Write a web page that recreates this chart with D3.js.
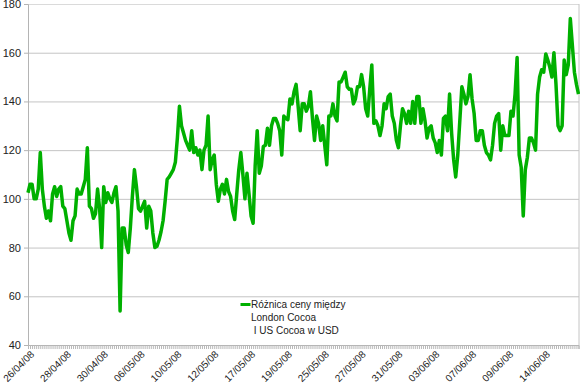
<!DOCTYPE html>
<html lang="pl">
<head>
<meta charset="UTF-8">
<title>Cocoa</title>
<style>
  body { margin: 0; background: #fff; }
  svg { display: block; font-family: "Liberation Sans", Arial, sans-serif; }
</style>
</head>
<body>
<svg id="chart"></svg>
<script src="https://d3js.org/d3.v7.min.js"></script>
<script>
// difference London Cocoa - US Cocoa (USD)
var values = [
  102.5,106,106,100,100,104,119,104,97,92,
  95,91,102,105,101,104,105,97,96,91,
  86,83,91,93,104,102,102,105,108,121,
  97,96,92,94,104,96,80,105,98.5,102.5,
  100,98.5,102.5,105,95,54,88,88,81,78,
  88,101,112,105,96,95,97,99,88,97,
  95,86,80,80.5,83,86.5,91,99,108,109,
  110.5,112,115,125,138,130,127,124,122,120,
  128,119,121,118,120,112,120,122,134,112,
  116,118,106,99,104,106,102,108,103,101,
  95,91.5,102,112,119,110,100,110.5,102,93,
  90,113.5,128,110.5,113.5,121.5,122,129,122,130,
  133,133,131,128,118,134,133,132.5,141,139,
  144,147,138,128,139,139,136,138,144,133,
  124,134,131,124,130,122,114,134,134,139,
  134,132,148,148,150,152,146,145,145,139,
  141,146,146,151,146,137,134,145,155,131,
  132,130,126,130,139,137,142,143,134,131,
  124,121,130,137,135,131,136,131,140,131,
  142,142,131,137,132,125,129,130,125,123,
  119,124,118,133,134,128,143,127,116,109,
  118,132,146,143,139,142,151,141,135,124,
  124,128,128,122,119,118,116,122,131,134,
  135,120,130,126,126,126,136,134,143,158,
  118,113,93,112,117,125,125,123,120,143,
  150,153,152,159.5,157,154,150,160,147,130,
  128,130,157,151,155,174,163,152,147,143
];
var dateLabels = ["26/04/08","28/04/08","30/04/08","06/05/08","10/05/08","12/05/08","17/05/08",
  "19/05/08","25/05/08","27/05/08","31/05/08","03/06/08","07/06/08","09/06/08","14/06/08"];
var labelEvery = 18;
var yTicks = [40, 60, 80, 100, 120, 140, 160, 180];
var legendLines = ["Różnica ceny między", "London Cocoa", " I US Cocoa w USD"];

var width = 580, height = 387;
var mLeft = 28, mRight = 579, mTop = 4, mBottom = 345;

var svg = d3.select("#chart").attr("width", width).attr("height", height);

var idx = d3.range(values.length);
var x = d3.scalePoint().domain(idx).range([mLeft, mRight - 0.5]);
var y = d3.scaleLinear().domain([40, 180]).range([mBottom, mTop]);

// gridlines
svg.append("g")
    .attr("transform", `translate(${mLeft},0)`)
    .call(d3.axisLeft(y).tickValues(yTicks).tickSize(-(mRight - mLeft)).tickFormat(""))
    .call(g => g.select(".domain").remove())
    .call(g => g.selectAll(".tick line").attr("stroke", "#c4c4c4"))
    .call(g => g.selectAll(".tick").filter(d => d == 180).select("line").attr("stroke", "#dadada"));

// right border
svg.append("line")
    .attr("x1", mRight).attr("x2", mRight).attr("y1", mTop).attr("y2", mBottom)
    .attr("stroke", "#c4c4c4");

// y axis
svg.append("g")
    .attr("transform", `translate(${mLeft},0)`)
    .call(d3.axisLeft(y).tickValues(yTicks).tickSize(4).tickPadding(3))
    .call(g => g.select(".domain").attr("stroke", "#b4b4b4"))
    .call(g => g.selectAll(".tick line").attr("stroke", "#b4b4b4"))
    .call(g => g.selectAll("text").attr("font-size", 11).attr("fill", "#222")
        .attr("font-family", "Liberation Sans, Arial, sans-serif"));

// x axis with a tick for every category
svg.append("g")
    .attr("transform", `translate(0,${mBottom})`)
    .call(d3.axisBottom(x).tickValues(idx).tickSize(4).tickFormat(""))
    .call(g => g.select(".domain").attr("stroke", "#b4b4b4"))
    .call(g => g.selectAll(".tick line").attr("stroke", "#b8b8b8"));

// date labels
svg.append("g")
    .attr("font-size", 10)
    .attr("fill", "#222")
    .selectAll("text")
    .data(dateLabels)
    .join("text")
    .attr("text-anchor", "end")
    .attr("transform", (d, i) => `translate(${x(i * labelEvery) + 2},${mBottom + 5}) rotate(-45)`)
    .attr("dy", "0.7em")
    .text(d => d);

// line
var line = d3.line().x((d, i) => x(i)).y(d => y(d));
svg.append("path")
    .datum(values)
    .attr("fill", "none")
    .attr("stroke", "#00b000")
    .attr("stroke-width", 3.5)
    .attr("stroke-linejoin", "round")
    .attr("d", line);

// legend
var lg = svg.append("g").attr("font-size", 10).attr("fill", "#222");
lg.append("rect").attr("x", 240.5).attr("y", 303).attr("width", 10).attr("height", 3).attr("fill", "#00b000");
lg.selectAll("text")
    .data(legendLines)
    .join("text")
    .attr("x", 251)
    .attr("y", (d, i) => 308 + i * 13)
    .attr("xml:space", "preserve")
    .style("white-space", "pre")
    .text(d => d);
</script>
</body>
</html>
